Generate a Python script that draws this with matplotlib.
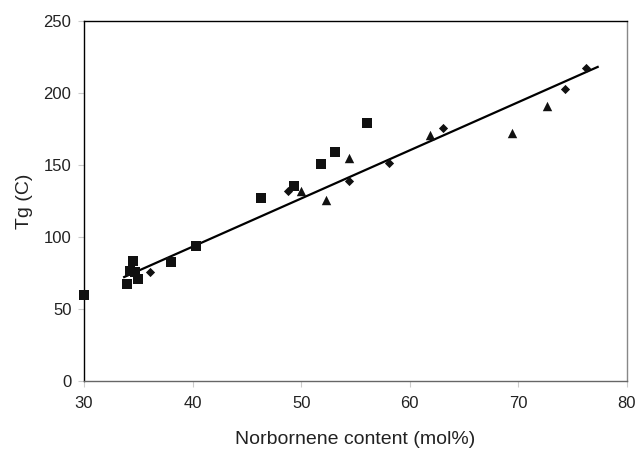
import matplotlib
matplotlib.use("Agg")
import matplotlib.pyplot as plt

plt.rcParams["font.family"] = ["Liberation Sans", "DejaVu Sans"]

# Data
sq_x = [30.0, 34.0, 34.2, 34.5, 34.7, 35.0, 38.0, 40.3, 46.3, 49.3, 51.8, 53.1, 56.05]
sq_y = [59.7, 67.1, 76.3, 83.2, 76.0, 70.6, 82.3, 93.6, 126.8, 135.4, 150.6, 159.3, 179.4]

dia_x = [36.1, 48.8, 54.4, 58.1, 63.1, 74.3, 76.2]
dia_y = [75.6, 131.7, 139.0, 151.7, 175.5, 202.7, 217.5]

tri_x = [50.0, 52.3, 54.4, 61.9, 69.4, 72.6]
tri_y = [132.0, 125.9, 154.7, 170.9, 172.0, 190.9]

fit_x = [33.7, 77.3]
fit_y = [72.2, 218.1]

fig = plt.figure(figsize=(6.39, 4.51), dpi=100)
ax = fig.add_axes([84 / 639, 70 / 451, (627 - 84) / 639, (381 - 21) / 451])

ax.plot(fit_x, fit_y, color="black", lw=1.6, zorder=2)
ax.scatter(sq_x, sq_y, marker="s", s=48, color="#111111", zorder=3, linewidths=0, clip_on=False)
ax.scatter(dia_x, dia_y, marker="D", s=22, color="#111111", zorder=3, linewidths=0)
ax.scatter(tri_x, tri_y, marker="^", s=46, color="#111111", zorder=3, linewidths=0)

ax.set_xlim(30, 80)
ax.set_ylim(0, 250)
ax.set_xticks(range(30, 81, 10))
ax.set_yticks(range(0, 251, 50))

ax.spines["left"].set_color("black")
ax.spines["top"].set_color("black")
ax.spines["right"].set_color("#888888")
ax.spines["bottom"].set_color("#666666")
for s in ax.spines.values():
    s.set_linewidth(1.0)

ax.tick_params(axis="both", direction="out", length=4, width=0.8,
               color="#cccccc", labelsize=12, labelcolor="#222222")
ax.tick_params(axis="x", pad=7)
ax.tick_params(axis="y", pad=5)

ax.set_xlabel("Norbornene content (mol%)", fontsize=14, labelpad=14, color="#222222")
ax.set_ylabel("Tg (C)", fontsize=14, labelpad=8, color="#222222")

fig.savefig("out.png", dpi=100)
